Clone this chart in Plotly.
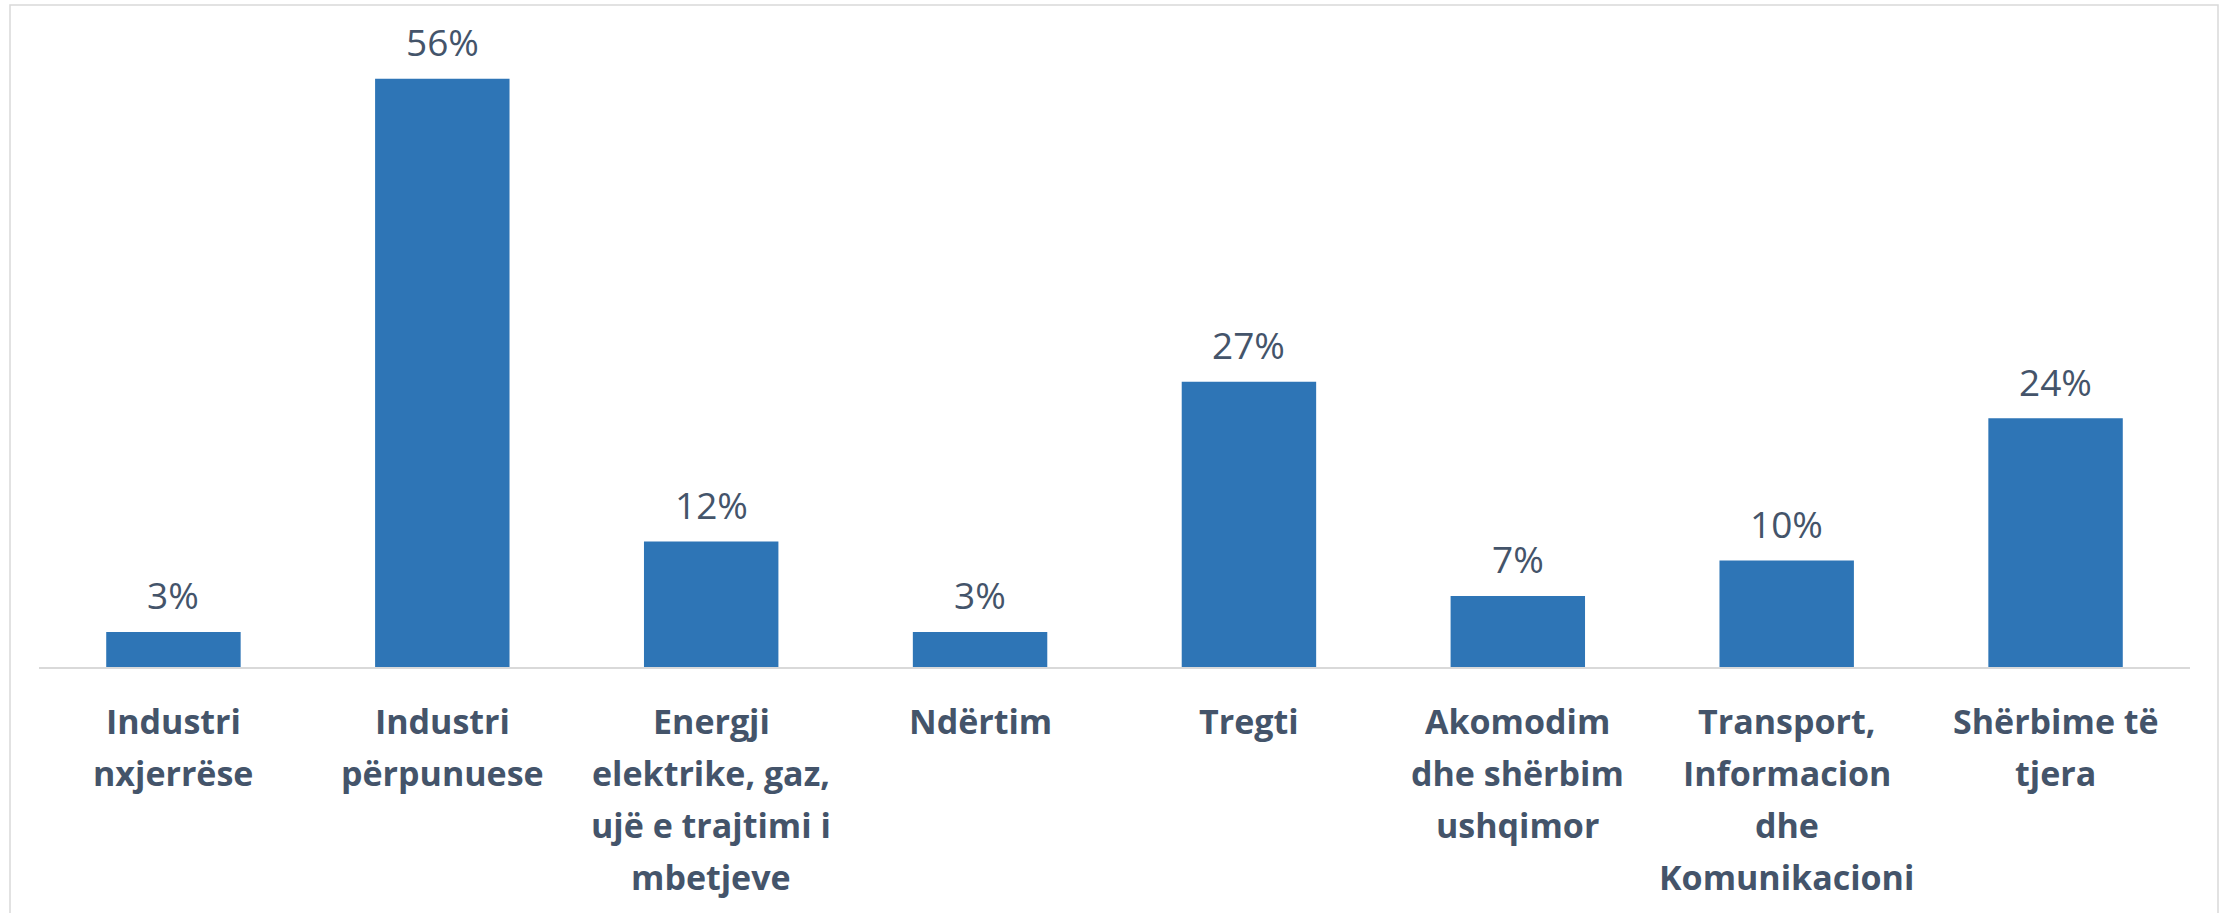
import plotly.graph_objects as go

# ---- data ----
categories = [
    "Industri\nnxjerrëse",
    "Industri\npërpunuese",
    "Energji\nelektrike, gaz,\nujë e trajtimi i\nmbetjeve",
    "Ndërtim",
    "Tregti",
    "Akomodim\ndhe shërbim\nushqimor",
    "Transport,\nInformacion\ndhe\nKomunikacioni",
    "Shërbime të\ntjera",
]
values = [3.35, 56.3, 12.0, 3.35, 27.3, 6.8, 10.2, 23.8]
value_labels = ["3%", "56%", "12%", "3%", "27%", "7%", "10%", "24%"]

# ---- styles ----
BAR = "#2E75B6"
TXT = "#44546A"
GRID = "#D9D9D9"
W, H = 2221, 913
ML, MR, MT, MB = 39, 31, 20, 246
PX_PER_UNIT = 10.45
plot_h = H - MT - MB
ymax = plot_h / PX_PER_UNIT

xs = list(range(len(categories)))

fig = go.Figure()
fig.add_trace(go.Bar(
    x=xs, y=values, marker=dict(color=BAR, line=dict(width=0)),
    hoverinfo="skip", showlegend=False,
))

annotations = []
# value labels
for x, v, t in zip(xs, values, value_labels):
    annotations.append(dict(
        x=x, y=v, xref="x", yref="y", text=t, showarrow=False,
        yanchor="middle", yshift=37,
        font=dict(family="Open Sans", size=37, color=TXT),
    ))
# category labels, one annotation per line for Excel-like spacing
for x, cat in zip(xs, categories):
    for i, line in enumerate(cat.split("\n")):
        annotations.append(dict(
            x=x, y=0, xref="x", yref="y", text=f"<b>{line}</b>", showarrow=False,
            yanchor="middle", yshift=-54 - 52 * i,
            font=dict(family="Open Sans", size=34, color=TXT),
        ))

# chart border
shapes = [dict(
    type="rect", xref="paper", yref="paper",
    x0=(10 - ML) / (W - ML - MR), x1=(2218 - ML) / (W - ML - MR),
    y0=(MT + plot_h - 918) / plot_h, y1=(MT + plot_h - 5) / plot_h,
    line=dict(color=GRID, width=1.5), fillcolor="rgba(0,0,0,0)", layer="below",
)]

fig.update_layout(
    width=W, height=H, autosize=False,
    margin=dict(l=ML, r=MR, t=MT, b=MB, pad=0),
    paper_bgcolor="white", plot_bgcolor="white",
    bargap=0.5,
    annotations=annotations, shapes=shapes,
    xaxis=dict(range=[-0.5, len(categories) - 0.5], showticklabels=False,
               showgrid=False, zeroline=False, showline=True,
               linecolor=GRID, linewidth=2, ticks=""),
    yaxis=dict(range=[0, ymax], visible=False, showgrid=False, zeroline=False),
)

fig.write_html("out.html", config={"displayModeBar": False},
               post_script="document.body.style.margin='0';document.body.style.overflow='hidden';")
